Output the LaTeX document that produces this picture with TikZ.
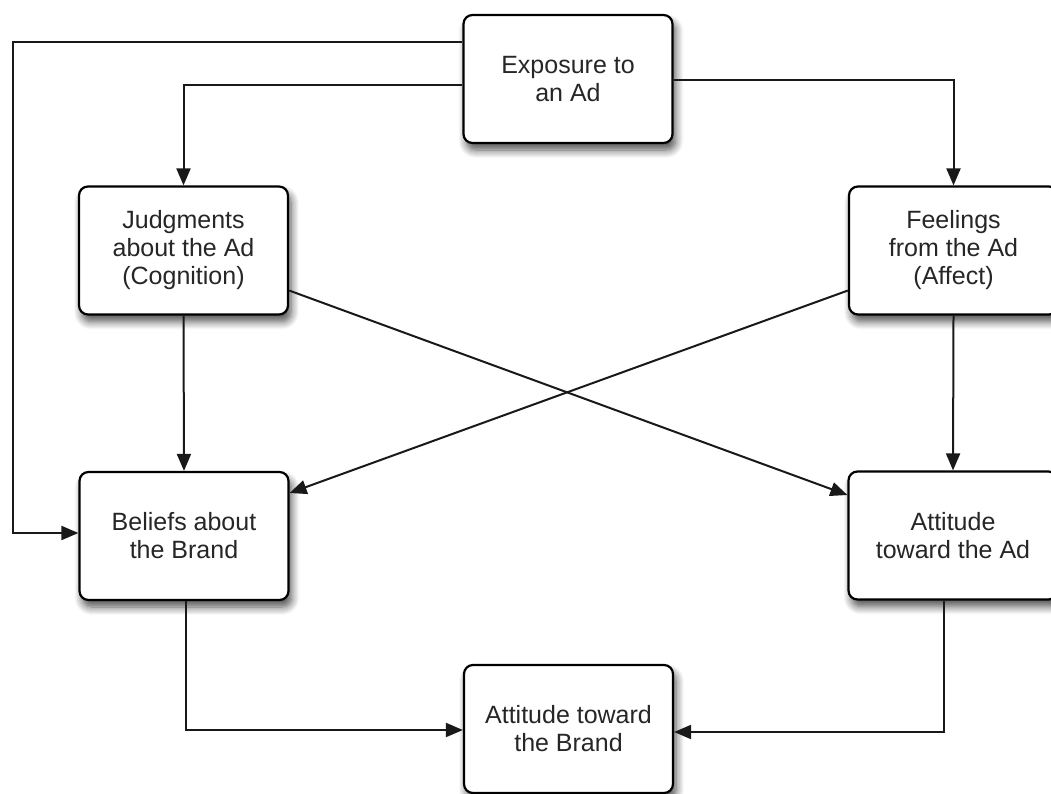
\documentclass[tikz,border=0pt]{standalone}
\usepackage{fontspec}
\setmainfont{Liberation Sans}
\usetikzlibrary{arrows.meta,calc,shadows.blur}

\begin{document}
\begin{tikzpicture}[x=1pt,y=-1pt,
  stage/.style={draw, line width=2.2pt, rounded corners=9pt, fill=white,
    minimum width=209pt, minimum height=128pt, inner sep=0pt, align=center,
    font=\fontsize{25}{28}\selectfont, text=black!85,
    blur shadow={shadow xshift=3pt, shadow yshift=-7pt, shadow blur steps=8,
      shadow blur radius=8pt, shadow opacity=70}},
  link/.style={line width=2pt, draw=black!90, -{Triangle[length=17pt,width=14pt]}}]

  \useasboundingbox (0,0) rectangle (1051,794);
  \clip (0,0) rectangle (1051,794);

  % stages of ad processing
  \node[stage] (exp)   at (568,79)    {Exposure to\\an Ad};
  \node[stage] (jud)   at (183.5,250.5) {Judgments\\about the Ad\\(Cognition)};
  \node[stage] (feel)  at (953.5,250.5) {Feelings\\from the Ad\\(Affect)};
  \node[stage] (bel)   at (184,536)   {Beliefs about\\the Brand};
  \node[stage] (ad)    at (953,535.5) {Attitude\\toward the Ad};
  \node[stage] (brand) at (568.5,729) {Attitude toward\\the Brand};

  % corners of the long detour on the left
  \coordinate (outTop) at (13,42);
  \coordinate (outBot) at (13,533);

  \draw[link] (exp.west |- outTop) -- (outTop) -- (outBot) -- (bel.west |- outBot);
  \draw[link] ($(exp.west)+(0,6)$) -| (jud.north);
  \draw[link] ($(exp.east)+(0,1)$) -| (feel.north);

  \draw[link] (jud.south) -- (bel.north);
  \draw[link] (feel.south) -- (ad.north);

  % crossing influences
  \draw[link] ($(jud.east)+(0,40)$) -- ($(ad.west)+(0,-40.5)$);
  \draw[link] ($(feel.west)+(0,40)$) -- ($(bel.east)+(0,-43)$);

  \draw[link] ($(bel.south)+(2,0)$) |- ($(brand.west)+(0,1)$);
  \draw[link] ($(ad.south)+(-9,0)$) |- ($(brand.east)+(0,3)$);
\end{tikzpicture}
\end{document}
